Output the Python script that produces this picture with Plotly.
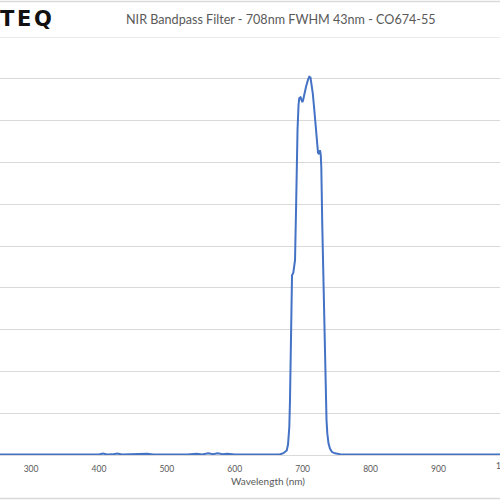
import plotly.graph_objects as go

# ---- data ----
wavelength_nm = [250, 300, 350, 390, 400, 406, 412, 420, 427, 434, 445, 452, 460, 471, 480,
                 500, 530, 544, 552, 561, 568, 575, 582, 589, 600, 640, 666,
                 671.6, 674.1, 676.6, 678.5, 680.4, 681.4, 682.5, 683.4, 684.4, 686.3,
                 687.3, 688.8, 690.3, 691.3, 692.5, 694.0, 695.1, 696.9, 698.4, 699.6,
                 700.6, 702.1, 705.0, 708.0, 709.9, 711.6, 713.4, 714.9, 717.2, 719.3,
                 721.2, 722.7, 724.2, 725.6, 726.7, 727.5, 729.0, 730.5, 732.0, 734.0,
                 735.2, 736.4, 738.1, 740.4, 743.3, 747.7,
                 755, 800, 900, 1000]
transmission_pct = [0.1, 0.1, 0.1, 0.1, 0.12, 0.35, 0.12, 0.15, 0.35, 0.12, 0.15, 0.35, 0.2, 0.3, 0.12,
                    0.1, 0.1, 0.3, 0.15, 0.4, 0.2, 0.4, 0.2, 0.3, 0.12, 0.1, 0.12,
                    0.43, 0.7, 1.1, 2.5, 6.7, 13.1, 22.7, 38.7, 43.0, 43.6,
                    44.7, 46.6, 58.6, 70.6, 77.8, 83.8, 85.4, 85.6, 85.0, 84.4,
                    84.8, 86.2, 88.1, 89.8, 90.5, 90.3, 88.6, 86.6, 82.6, 78.6,
                    75.9, 72.3, 72.0, 72.9, 71.8, 69.0, 54.6, 41.9, 30.6, 14.7,
                    8.3, 5.1, 2.8, 1.5, 0.7, 0.4,
                    0.2, 0.1, 0.1, 0.1]
assert len(wavelength_nm) == len(transmission_pct)

x_ticks = [300, 400, 500, 600, 700, 800, 900]
x_tick_labels = ["300", "400", "500", "600", "700", "800", "900"]
y_grid = [0, 10, 20, 30, 40, 50, 60, 70, 80, 90, 100]

title_text = "NIR Bandpass Filter - 708nm FWHM 43nm - CO674-55"
x_title = "Wavelength (nm)"
logo_letters = ["T", "E", "Q"]

GRAY_TXT = "#595959"
GRID = "#d9d9d9"
FONT = "Lato"

fig = go.Figure()
fig.add_trace(go.Scatter(x=wavelength_nm, y=transmission_pct, mode="lines",
                         line=dict(color="#4472C4", width=2), hoverinfo="skip"))

W, H = 500, 500
mt, mb = 37, 45
plot_h = H - mt - mb


def py(pix_y):
    return (H - mb - pix_y) / plot_h


fig.update_layout(
    width=W, height=H,
    margin=dict(l=0, r=0, t=mt, b=mb, pad=0),
    paper_bgcolor="white", plot_bgcolor="white",
    showlegend=False,
    xaxis=dict(range=[254.3, 990.7], tickvals=x_ticks, ticktext=x_tick_labels,
               showgrid=False, zeroline=False, showline=True, linecolor=GRID, linewidth=1,
               ticks="", ticklabelstandoff=6,
               tickfont=dict(family=FONT, size=8.5, color=GRAY_TXT)),
    yaxis=dict(range=[0, 100], tickvals=y_grid, showgrid=True, gridcolor=GRID, gridwidth=1,
               zeroline=False, showticklabels=False, ticks=""),
)

# top gridline (100) and outer chart border lines
fig.add_shape(type="line", xref="paper", yref="y", x0=0, x1=1, y0=100, y1=100,
              line=dict(color=GRID, width=1), layer="below")
for yy in (1.5, 498.5):
    fig.add_shape(type="line", xref="paper", yref="paper", x0=-0.01, x1=1.01,
                  y0=py(yy), y1=py(yy), line=dict(color=GRID, width=1.5))

# "1000" tick label, partially outside the visible area
fig.add_annotation(xref="paper", yref="paper", x=506.3 / W, y=py(466.5), text="1000",
                   showarrow=False, xanchor="center", yanchor="middle",
                   font=dict(family=FONT, size=8.5, color=GRAY_TXT))

# axis title
fig.add_annotation(xref="paper", yref="paper", x=268 / W, y=py(481), text=x_title,
                   showarrow=False, xanchor="center", yanchor="middle",
                   font=dict(family=FONT, size=10, color=GRAY_TXT))

# chart title
fig.add_annotation(xref="paper", yref="paper", x=281 / W, y=py(19), text=title_text,
                   showarrow=False, xanchor="center", yanchor="middle",
                   font=dict(family=FONT, size=12.6, color=GRAY_TXT))

# logo letters
for letter, cx in zip(logo_letters, [7, 24, 42.5]):
    fig.add_annotation(xref="paper", yref="paper", x=cx / W, y=py(18.5), text="<b>%s</b>" % letter,
                       showarrow=False, xanchor="center", yanchor="middle",
                       font=dict(family="DejaVu Sans", size=21, color="#111111"))

fig.write_html("out.html", config={"displayModeBar": False},
               post_script="document.body.style.margin='0';document.body.style.overflow='hidden';")
